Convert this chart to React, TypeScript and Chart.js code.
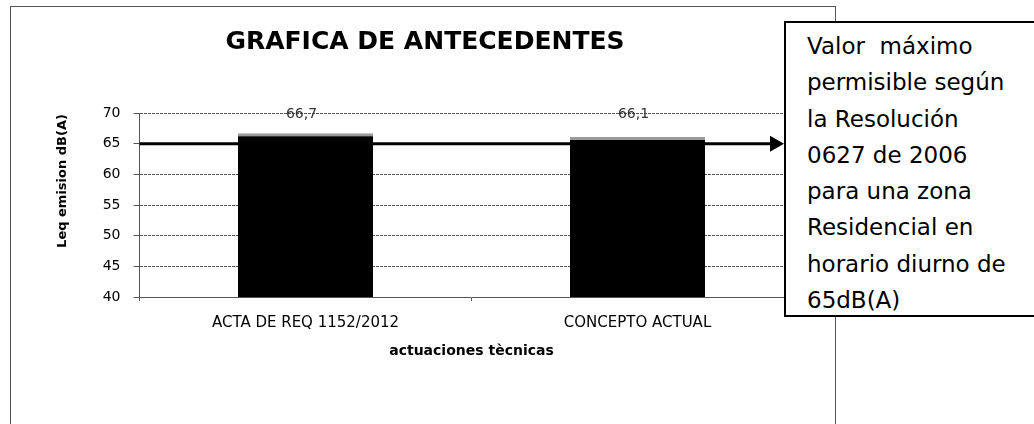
import React, { useEffect, useRef } from "react";
import { Chart, registerables } from "chart.js";

Chart.register(...registerables);

const categories = ["ACTA DE REQ 1152/2012", "CONCEPTO ACTUAL"];
const leqValues = [66.7, 66.1];
const yTicks = [40, 45, 50, 55, 60, 65, 70];
const limitValue = 65;
const chartTitle = "GRAFICA DE ANTECEDENTES";
const yTitle = "Leq emision dB(A)";
const xTitle = "actuaciones tècnicas";
const calloutLines = [
  "Valor\u00a0 máximo",
  "permisible según",
  "la Resolución",
  "0627 de 2006",
  "para una zona",
  "Residencial en",
  "horario diurno de",
  "65dB(A)",
];

const FONT = "'DejaVu Sans', 'Open Sans', sans-serif";
const ARROW_TIP = 784;

const overlayPlugin = {
  id: "overlayPlugin",
  afterDatasetsDraw(chart: any) {
    const { ctx, chartArea, scales } = chart;
    const x = scales.x;
    const y = scales.y;
    ctx.save();
    // threshold line with arrow
    const yy = y.getPixelForValue(limitValue);
    ctx.strokeStyle = "#000";
    ctx.fillStyle = "#000";
    ctx.lineWidth = 3;
    ctx.beginPath();
    ctx.moveTo(chartArea.left, yy);
    ctx.lineTo(ARROW_TIP - 12, yy);
    ctx.stroke();
    ctx.beginPath();
    ctx.moveTo(ARROW_TIP, yy);
    ctx.lineTo(ARROW_TIP - 14, yy - 8);
    ctx.lineTo(ARROW_TIP - 14, yy + 8);
    ctx.closePath();
    ctx.fill();
    // value labels
    ctx.font = `14px ${FONT}`;
    ctx.fillStyle = "#333";
    ctx.textAlign = "center";
    ctx.textBaseline = "middle";
    leqValues.forEach((v, i) => {
      const px = x.getPixelForValue(i);
      ctx.fillText(String(v).replace(".", ","), px - 4, chartArea.top + 1);
    });
    // y axis title
    ctx.translate(63, (chartArea.top + chartArea.bottom) / 2 - 24);
    ctx.rotate(-Math.PI / 2);
    ctx.font = `bold 13px ${FONT}`;
    ctx.fillStyle = "#000";
    ctx.fillText(yTitle, 0, 0);
    ctx.restore();
  },
};

export default function App() {
  const canvasRef = useRef<HTMLCanvasElement | null>(null);

  useEffect(() => {
    if (!canvasRef.current) return;
    const gridColor = "#555";
    const chart = new Chart(canvasRef.current, {
      type: "bar",
      data: {
        labels: categories,
        datasets: [
          {
            data: leqValues,
            backgroundColor: "#000",
            borderColor: "#9a9a9a",
            borderWidth: { top: 3, left: 0, right: 0, bottom: 0 },
            borderSkipped: false,
            barPercentage: 0.407,
            categoryPercentage: 1,
          },
        ],
      },
      options: {
        responsive: false,
        animation: false,
        layout: { padding: { left: 46.5, right: 230.5, top: 0, bottom: 0 } },
        plugins: {
          legend: { display: false },
          tooltip: { enabled: false },
          title: {
            display: true,
            text: chartTitle,
            color: "#000",
            font: { family: FONT, size: 25, weight: "bold" },
            padding: { top: 27, bottom: 56 },
          },
        },
        scales: {
          x: {
            afterFit: (s: any) => {
              s.height = 127;
            },
            grid: {
              display: true,
              drawOnChartArea: false,
              drawTicks: true,
              tickLength: 4,
              color: gridColor,
            },
            border: { display: true, color: gridColor, dash: [3, 1] },
            ticks: {
              color: "#000",
              padding: 13,
              font: { family: FONT, size: 15 },
            },
            title: {
              display: true,
              text: xTitle,
              color: "#000",
              font: { family: FONT, size: 14, weight: "bold" },
              padding: { top: 0, bottom: 64 },
            },
          },
          y: {
            min: 40,
            max: 70,
            afterFit: (s: any) => {
              s.width = 93;
            },
            afterBuildTicks: (s: any) => {
              s.ticks = yTicks.map((v) => ({ value: v }));
            },
            grid: {
              color: gridColor,
              tickLength: 6,
            },
            border: { display: true, color: gridColor, dash: [3, 1] },
            ticks: {
              color: "#000",
              padding: 13,
              font: { family: FONT, size: 14 },
            },
          },
        },
      },
      plugins: [overlayPlugin],
    } as any);
    return () => chart.destroy();
  }, []);

  return (
    <div
      style={{
        position: "absolute",
        left: 0,
        top: 0,
        width: 1034,
        height: 424,
        overflow: "hidden",
        background: "#fff",
      }}
    >
      <div
        style={{
          position: "absolute",
          left: 10,
          top: 6,
          width: 826,
          height: 440,
          border: "1px solid #555",
          boxSizing: "border-box",
        }}
      />
      <canvas
        ref={canvasRef}
        width={1034}
        height={424}
        style={{ position: "absolute", left: 0, top: 0, display: "block" }}
      />
      <div
        style={{
          position: "absolute",
          left: 784,
          top: 21,
          width: 270,
          height: 296,
          boxSizing: "border-box",
          border: "2px solid #000",
          background: "#fff",
          paddingLeft: 21,
          paddingTop: 5,
          fontFamily: FONT,
          fontSize: 23,
          lineHeight: "36.3px",
          color: "#000",
          whiteSpace: "nowrap",
        }}
      >
        {calloutLines.map((l, i) => (
          <div key={i}>{l}</div>
        ))}
      </div>
    </div>
  );
}
